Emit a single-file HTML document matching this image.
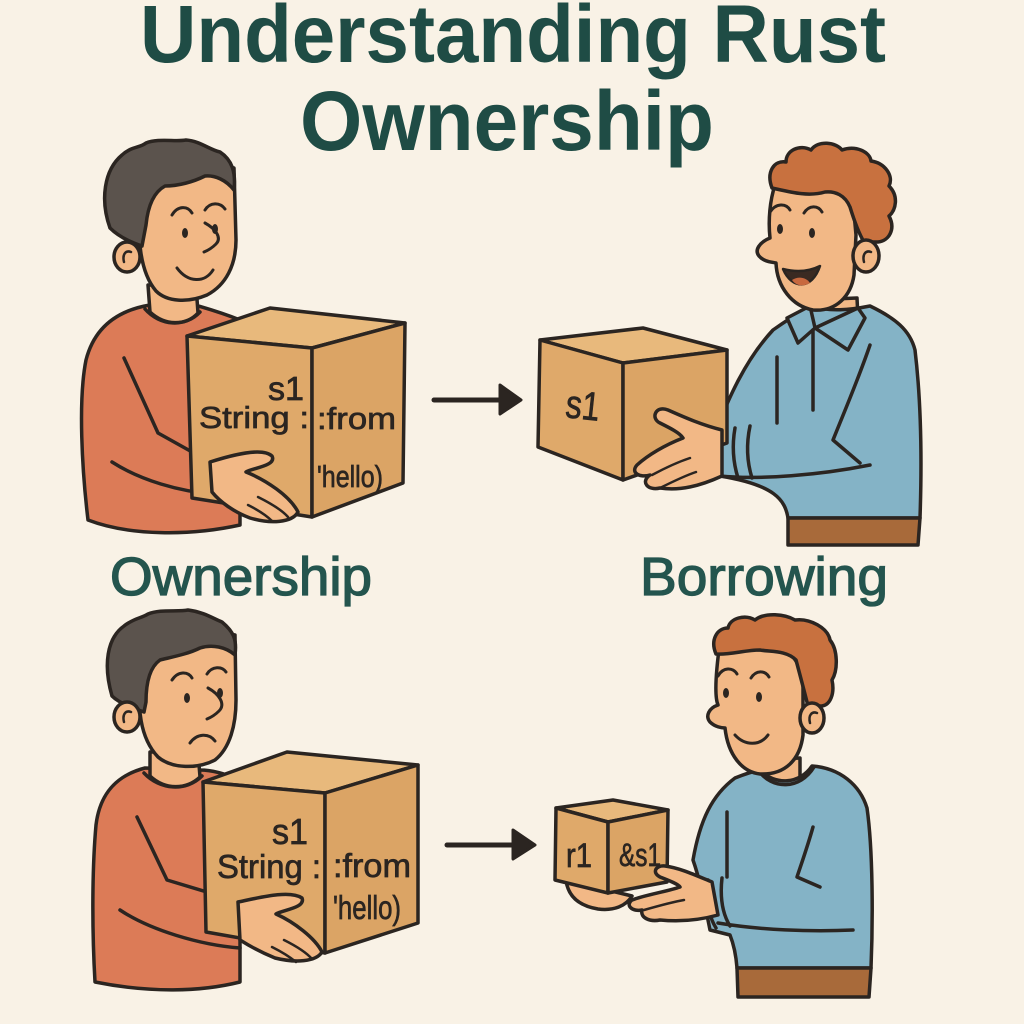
<!DOCTYPE html>
<html><head><meta charset="utf-8">
<style>
html,body{margin:0;padding:0;background:#f9f2e6;}
svg{display:block;}
</style></head>
<body>
<svg width="1024" height="1024" viewBox="0 0 1024 1024" xmlns="http://www.w3.org/2000/svg">
<rect width="1024" height="1024" fill="#f9f2e6"/>

<!-- Title -->
<g font-family="'Liberation Sans', sans-serif" font-weight="bold" fill="#1f4c45">
<text x="140" y="62" font-size="82" textLength="746" lengthAdjust="spacingAndGlyphs">Understanding Rust</text>
<text x="300" y="150" font-size="84" textLength="414" lengthAdjust="spacingAndGlyphs">Ownership</text>
</g>

<!-- Labels -->
<g font-family="'Liberation Sans', sans-serif" fill="#24554e" stroke="#24554e" stroke-width="1.3">
<text x="110" y="595" font-size="54" textLength="262" lengthAdjust="spacingAndGlyphs">Ownership</text>
<text x="640" y="595" font-size="54" textLength="248" lengthAdjust="spacingAndGlyphs">Borrowing</text>
</g>

<!-- Arrows -->
<g fill="#2b2521" stroke="#2b2521" stroke-linecap="round" stroke-linejoin="round">
<line x1="434" y1="400" x2="504" y2="400" stroke-width="5"/>
<polygon points="500,385 521,400 500,414" stroke-width="3"/>
<line x1="447" y1="845" x2="517" y2="845" stroke-width="5"/>
<polygon points="513,830 535,845 513,859" stroke-width="3"/>
</g>

<g stroke="#2b2521" stroke-width="3.5" stroke-linejoin="round" stroke-linecap="round">

<!-- ================= PERSON 1 (top-left) ================= -->
<path d="M150 305 C120 310 95 325 86 360 C78 400 82 470 88 520 C130 536 190 536 240 525 L240 320 C220 312 205 308 195 305 Z" fill="#dc7b57"/>
<path d="M148 285 L150 312 C165 326 186 326 198 313 L196 285 Z" fill="#f2b886"/>
<path d="M145 309 C160 326 185 328 200 312" fill="none"/>
<!-- arm -->
<path d="M124 358 L158 433 L210 462" fill="none"/>
<path d="M112 462 C140 480 180 492 215 494" fill="none"/>
<path d="M203 462 C200 472 200 485 206 494 M218 462 C214 472 214 485 220 494" fill="none"/>
<!-- head -->
<path d="M140 195 C137 240 140 272 156 291 C167 302 188 303 207 295 C226 285 236 265 236 240 L234 168 C200 160 160 170 140 195 Z" fill="#f2b886"/>
<path d="M110 228 C100 200 104 170 122 155 C132 146 140 148 146 143 C158 138 176 142 186 140 C200 141 210 150 220 152 C232 160 236 172 234 190 C226 180 215 175 205 176 C193 182 178 186 165 186 C154 192 148 205 146 225 L142 246 C130 242 118 236 110 228 Z" fill="#5b534d"/>
<ellipse cx="127" cy="257" rx="13" ry="15" fill="#f2b886"/>
<path d="M124 262 C122 254 126 250 131 252" fill="none" stroke-width="2.5"/>
<path d="M172 215 C178 205 188 206 192 213 M205 210 C210 202 220 202 225 209" fill="none" stroke-width="3"/>
<ellipse cx="185" cy="233" rx="3" ry="5" fill="#2b2521" stroke="none"/>
<ellipse cx="215" cy="229" rx="3" ry="5" fill="#2b2521" stroke="none"/>
<path d="M205 223 C216 229 222 238 216 244 C212 248 209 250 204 252" fill="none" stroke-width="3"/>
<path d="M177 268 C188 283 205 283 213 270" fill="none" stroke-width="3"/>
<!-- box 1 -->
<polygon points="187,336 270,308 405,323 312,348" fill="#e8b97c"/>
<polygon points="187,336 312,348 312,517 192,498" fill="#dfa96a"/>
<polygon points="312,348 405,323 403,483 312,517" fill="#dba465"/>
<!-- hand 1 -->
<path d="M210 462 C232 455 262 447 272 456 C277 466 252 468 246 472 C266 480 290 496 298 512 C292 523 270 524 250 518 C234 512 220 502 212 492 Z" fill="#f2b886"/>
<path d="M258 497 C270 503 282 510 288 517 M248 505 C258 510 266 515 272 521" fill="none" stroke-width="2.5"/>
</g>
<g font-family="'Liberation Sans', sans-serif" fill="#2b2521" stroke="#2b2521" stroke-width="0.7">
<text x="304" y="400" font-size="33" text-anchor="end" textLength="36" lengthAdjust="spacingAndGlyphs">s1</text>
<text x="199" y="428" font-size="31" textLength="110" lengthAdjust="spacingAndGlyphs">String :</text>
<text x="317" y="429" font-size="31" textLength="79" lengthAdjust="spacingAndGlyphs">:from</text>
<text x="317" y="487" font-size="31" textLength="66" lengthAdjust="spacingAndGlyphs">'hello)</text>
</g>

<g stroke="#2b2521" stroke-width="3.5" stroke-linejoin="round" stroke-linecap="round">
<!-- ================= PERSON 2 (top-right) ================= -->
<path d="M810 300 L808 320 C825 330 845 328 858 318 L857 298 Z" fill="#f2b886"/>
<path d="M773 330 C790 318 800 312 810 306 C830 312 850 310 870 306 C895 318 910 330 915 350 C921 400 922 460 920 518 L788 518 C785 500 775 485 720 476 L717 428 C728 400 745 360 773 330 Z" fill="#84b3c6"/>
<path d="M788 518 L920 518 L918 545 L788 545 Z" fill="#a86a3a"/>
<!-- collar -->
<path d="M810 306 L787 318 L798 343 L815 328 Z" fill="#84b3c6"/>
<path d="M815 328 L858 308 L865 318 L848 350 Z" fill="#84b3c6"/>
<path d="M813 330 L813 410 M777 357 L777 423 M870 345 C858 380 845 410 833 440 L860 463 M720 476 C760 480 820 475 870 465" fill="none"/>
<path d="M735 428 C732 445 733 462 738 478 M750 426 C746 445 747 462 752 478" fill="none"/>
<!-- head 2 -->
<path d="M775 185 C770 200 768 220 770 238 C760 242 754 250 759 256 C764 262 772 262 776 263 C777 287 792 306 813 310 C836 312 851 296 854 275 L856 235 L851 180 C830 166 795 166 775 185 Z" fill="#f2b886"/>
<path d="M772 188 C766 172 774 160 786 162 C786 150 800 144 811 150 C818 140 836 142 842 150 C856 145 870 152 871 161 C885 163 894 176 889 186 C899 196 896 210 889 216 C896 229 889 241 878 242 L864 242 C858 232 854 220 850 207 C845 195 835 191 825 192 C808 197 790 192 772 188 Z" fill="#c8713f"/>
<ellipse cx="866" cy="256" rx="13" ry="16" fill="#f2b886"/>
<path d="M864 262 C862 254 866 250 871 252" fill="none" stroke-width="2.5"/>
<path d="M770 212 C776 203 786 203 790 210 M804 213 C809 205 818 205 822 212" fill="none" stroke-width="3"/>
<ellipse cx="780" cy="229" rx="3" ry="5" fill="#2b2521" stroke="none"/>
<ellipse cx="812" cy="233" rx="3" ry="5" fill="#2b2521" stroke="none"/>
<path d="M783 269 C792 290 812 290 820 266 C808 272 795 272 783 269 Z" fill="#3a2a22" stroke-width="2.5"/>
<path d="M792 280 C798 276 806 277 810 283 C803 287 796 286 792 280 Z" fill="#c8693f" stroke="none"/>
<!-- box 2 -->
<polygon points="540,340 643,328 727,350 623,363" fill="#e8b97c"/>
<polygon points="540,340 623,363 623,480 538,447" fill="#dfa96a"/>
<polygon points="623,363 727,350 727,443 623,480" fill="#dba465"/>
<!-- hand 2 -->
<path d="M722 430 C702 425 686 418 668 410 C656 405 650 418 660 423 C670 428 680 433 683 438 C665 445 648 455 637 465 C630 473 640 478 650 475 C640 482 648 491 660 488 C680 491 700 486 722 476 Z" fill="#f2b886"/>
<path d="M652 475 C665 468 678 462 690 458 M660 488 C672 482 684 476 696 472" fill="none" stroke-width="2.5"/>
</g>
<text x="566" y="419" font-family="'Liberation Sans', sans-serif" font-size="40" fill="#2b2521" stroke="#2b2521" stroke-width="0.7" textLength="34" lengthAdjust="spacingAndGlyphs" transform="rotate(6 583 405)">s1</text>

<g stroke="#2b2521" stroke-width="3.5" stroke-linejoin="round" stroke-linecap="round">
<!-- ================= PERSON 3 (bottom-left) ================= -->
<path d="M145 768 C118 775 100 792 96 825 C92 870 92 930 95 982 C150 993 200 992 240 982 L240 780 C226 774 212 770 200 770 Z" fill="#dc7b57"/>
<path d="M150 752 L150 776 C165 790 186 790 200 777 L198 752 Z" fill="#f2b886"/>
<path d="M144 773 C160 790 186 792 202 776" fill="none"/>
<path d="M137 817 L167 880 L240 902" fill="none"/>
<path d="M120 910 C150 930 200 945 240 948" fill="none"/>
<!-- head 3 -->
<path d="M140 665 C137 710 140 738 158 757 C172 769 198 769 215 760 C230 748 236 725 236 700 L235 635 C200 628 160 640 140 665 Z" fill="#f2b886"/>
<path d="M112 696 C103 665 107 638 124 626 C134 618 142 618 148 614 C160 609 178 612 188 610 C204 612 214 619 222 622 C234 632 237 640 235 655 C226 647 212 644 200 648 C188 654 172 657 160 660 C150 667 146 682 146 702 L144 712 C132 708 119 703 112 696 Z" fill="#5b534d"/>
<ellipse cx="127" cy="717" rx="13" ry="15" fill="#f2b886"/>
<path d="M124 722 C122 714 126 710 131 712" fill="none" stroke-width="2.5"/>
<path d="M172 680 C178 671 188 671 192 678 M207 674 C212 666 222 666 226 672" fill="none" stroke-width="3"/>
<ellipse cx="187" cy="698" rx="3" ry="5" fill="#2b2521" stroke="none"/>
<ellipse cx="220" cy="693" rx="3" ry="5" fill="#2b2521" stroke="none"/>
<path d="M208 688 C219 694 226 704 219 711 C215 715 212 717 207 719" fill="none" stroke-width="3"/>
<path d="M190 743 C197 733 209 733 215 741" fill="none" stroke-width="3"/>
<!-- box 3 -->
<polygon points="203,782 287,752 418,765 325,793" fill="#e8b97c"/>
<polygon points="203,782 325,793 325,953 206,932" fill="#dfa96a"/>
<polygon points="325,793 418,765 418,923 325,953" fill="#dba465"/>
<!-- hand 3 -->
<path d="M238 902 C262 897 290 890 302 898 C306 908 282 910 276 914 C294 922 315 938 322 952 C316 962 295 963 275 958 C260 952 248 945 240 940 Z" fill="#f2b886"/>
<path d="M284 940 C296 946 306 952 312 959 M272 947 C282 952 290 957 296 962" fill="none" stroke-width="2.5"/>
</g>
<g font-family="'Liberation Sans', sans-serif" fill="#2b2521" stroke="#2b2521" stroke-width="0.7">
<text x="308" y="844" font-size="36" text-anchor="end" textLength="36" lengthAdjust="spacingAndGlyphs">s1</text>
<text x="217" y="878" font-size="33" textLength="104" lengthAdjust="spacingAndGlyphs">String :</text>
<text x="333" y="877" font-size="33" textLength="78" lengthAdjust="spacingAndGlyphs">:from</text>
<text x="333" y="919" font-size="33" textLength="68" lengthAdjust="spacingAndGlyphs">'hello)</text>
</g>

<g stroke="#2b2521" stroke-width="3.5" stroke-linejoin="round" stroke-linecap="round">
<!-- ================= PERSON 4 (bottom-right) ================= -->
<path d="M755 760 L756 782 C770 792 790 790 800 780 L800 758 Z" fill="#f2b886"/>
<path d="M735 778 C750 772 760 770 760 770 C775 786 800 784 812 766 C840 768 860 785 867 808 C873 850 873 920 871 968 L737 968 C736 955 734 945 730 935 L710 930 C705 905 700 880 693 860 C700 820 712 795 735 778 Z" fill="#84b3c6"/>
<path d="M758 770 C772 790 800 790 814 767" fill="none"/>
<path d="M737 968 L871 968 L869 997 L738 997 Z" fill="#a86a3a"/>
<path d="M727 812 L727 877 M813 827 C808 845 802 862 797 877 L820 887 M718 923 C760 930 810 932 853 930" fill="none"/>
<path d="M708 880 C706 898 708 915 716 928 M722 878 C720 896 722 913 730 926" fill="none"/>
<!-- head 4 -->
<path d="M720 642 C715 678 715 698 718 705 C709 708 705 716 710 722 C715 727 722 728 725 728 C728 755 742 772 760 774 C785 775 800 760 803 735 L803 680 C795 640 760 632 720 642 Z" fill="#f2b886"/>
<path d="M716 654 C710 640 717 628 728 628 C730 618 745 614 755 620 C765 612 785 614 795 620 C810 618 828 628 830 640 C838 650 838 670 832 680 C835 694 830 705 822 706 L808 706 C804 690 800 675 796 660 C786 650 770 652 760 650 C745 650 730 655 716 654 Z" fill="#c8713f"/>
<ellipse cx="812" cy="718" rx="12" ry="15" fill="#f2b886"/>
<path d="M810 723 C808 715 812 711 817 713" fill="none" stroke-width="2.5"/>
<path d="M718 676 C723 667 733 667 737 674 M751 678 C756 670 765 670 769 677" fill="none" stroke-width="3"/>
<ellipse cx="726" cy="693" rx="3" ry="5" fill="#2b2521" stroke="none"/>
<ellipse cx="759" cy="697" rx="3" ry="5" fill="#2b2521" stroke="none"/>
<path d="M735 735 C745 746 760 746 768 735" fill="none" stroke-width="3"/>
<!-- left hand under box -->
<path d="M566 880 C568 897 580 906 598 909 C614 911 626 906 632 896 Z" fill="#f2b886"/>
<!-- box 4 -->
<polygon points="556,808 613,800 668,810 608,822" fill="#e8b97c"/>
<polygon points="556,808 608,822 608,893 555,880" fill="#dfa96a"/>
<polygon points="608,822 668,810 667,882 608,893" fill="#dba465"/>
<!-- right hand 4 -->
<path d="M712 882 C695 875 680 868 665 866 C655 865 652 873 660 877 C670 881 678 884 680 887 C665 892 645 895 632 900 C625 905 632 912 642 910 C640 918 650 922 660 920 C680 922 700 920 718 915 Z" fill="#f2b886"/>
<path d="M644 910 C658 906 672 902 684 900" fill="none" stroke-width="2.5"/>
</g>
<g font-family="'Liberation Sans', sans-serif" fill="#2b2521" stroke="#2b2521" stroke-width="0.7">
<text x="566" y="867" font-size="34" textLength="26" lengthAdjust="spacingAndGlyphs">r1</text>
<text x="619" y="866" font-size="32" textLength="42" lengthAdjust="spacingAndGlyphs">&amp;s1</text>
</g>
</svg>
</body></html>
